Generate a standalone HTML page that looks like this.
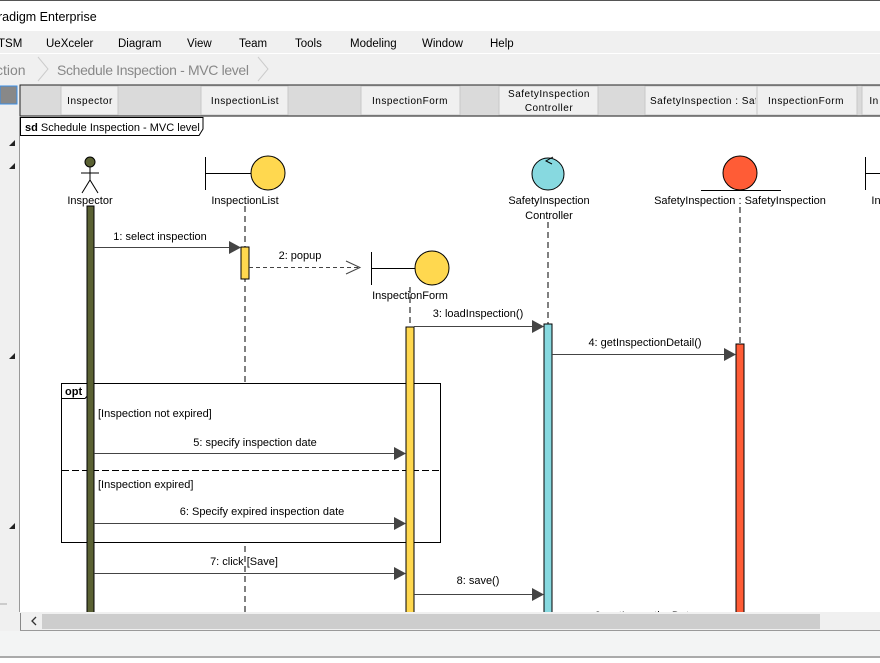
<!DOCTYPE html>
<html><head><meta charset="utf-8"><style>
body{margin:0;width:880px;height:658px;overflow:hidden;background:#fff;font-family:"Liberation Sans",sans-serif}
</style></head><body>
<svg width="880" height="658" xmlns="http://www.w3.org/2000/svg" font-family="Liberation Sans, sans-serif" font-size="11">
<defs><clipPath id="c1"><rect x="645" y="86" width="111" height="29"/></clipPath></defs>
<rect width="880" height="658" fill="#fff"/>
<line x1="0" y1="0.5" x2="880" y2="0.5" stroke="#555"/>
<text x="-2" y="21" font-size="12.5" fill="#000">radigm Enterprise</text>
<rect x="0" y="31" width="880" height="22" fill="#f0f0f0"/>
<g font-size="11.5" fill="#000">
<text x="-2" y="47">TSM</text><text x="46" y="47">UeXceler</text><text x="118" y="47">Diagram</text><text x="187" y="47">View</text><text x="239" y="47">Team</text><text x="295" y="47">Tools</text><text x="350" y="47">Modeling</text><text x="422" y="47">Window</text><text x="490" y="47">Help</text>
</g>
<rect x="0" y="54" width="880" height="30" fill="#f0f0f0"/>
<text x="-4" y="75" font-size="14" fill="#888">ction</text>
<path d="M38 57 L48 69 L38 81" fill="none" stroke="#ccc"/>
<text x="57" y="75" font-size="14" fill="#888" textLength="192">Schedule Inspection - MVC level</text>
<path d="M258 57 L268 69 L258 81" fill="none" stroke="#ccc"/>
<rect x="0" y="84" width="880" height="33" fill="#f0f0f0"/>
<rect x="0" y="86" width="17" height="18" fill="#888" stroke="#3a8ee6"/>
<rect x="20" y="85" width="860" height="31" fill="#dadada" stroke="#222" stroke-width="1"/>
<g fill="#f0f0f0" stroke="#c8c8c8">
<rect x="61" y="86" width="57" height="29"/><rect x="201" y="86" width="87" height="29"/><rect x="361" y="86" width="99" height="29"/><rect x="499" y="86" width="99" height="29"/><rect x="645" y="86" width="112" height="29"/><rect x="757" y="86" width="100" height="29"/><rect x="862" y="86" width="20" height="29"/>
</g>
<g font-size="10" fill="#000" text-anchor="middle" letter-spacing="0.5">
<text x="90" y="104">Inspector</text><text x="245" y="104">InspectionList</text><text x="410" y="104">InspectionForm</text>
<text x="549" y="97">SafetyInspection</text><text x="549" y="111">Controller</text>
<text x="650" y="104" text-anchor="start" clip-path="url(#c1)">SafetyInspection : SafetyInspection</text><text x="806" y="104">InspectionForm</text><text x="874" y="104">In</text>
</g>
<line x1="20" y1="116.5" x2="880" y2="116.5" stroke="#888"/>
<rect x="0" y="117" width="19" height="496" fill="#f0f0f0"/>
<line x1="19.5" y1="117" x2="19.5" y2="613" stroke="#999"/>
<g fill="#222"><path d="M9 146 L15 140 L15 146Z"/><path d="M9 169 L15 163 L15 169Z"/><path d="M9 359 L15 353 L15 359Z"/><path d="M9 529 L15 523 L15 529Z"/></g>
<path d="M20.5 117.5 H203 V129 L199 135.5 H20.5Z" fill="#fff" stroke="#000"/>
<text x="25" y="131" font-size="11"><tspan font-weight="bold">sd</tspan> Schedule Inspection - MVC level</text>
<g stroke="#000" stroke-dasharray="6,4">
<line x1="245" y1="206" x2="245" y2="612"/><line x1="410" y1="287" x2="410" y2="612"/><line x1="548" y1="222" x2="548" y2="612"/><line x1="740" y1="207" x2="740" y2="612"/>
</g>
<!-- opt frame (white fill, behind activations) -->
<rect x="61.5" y="383.5" width="379" height="159" fill="#fff" stroke="#000"/>
<path d="M61.5 383.5 H89 V394 L85 398.5 H61.5Z" fill="#fff" stroke="#000"/>
<text x="65" y="395" font-weight="bold" font-size="11">opt</text>
<line x1="62" y1="470.5" x2="440" y2="470.5" stroke="#000" stroke-dasharray="7,3"/>
<text x="98" y="417" font-size="11">[Inspection not expired]</text>
<text x="98" y="488" font-size="11">[Inspection expired]</text>
<circle cx="90" cy="162" r="5" fill="#5a6133" stroke="#000"/>
<g stroke="#000" fill="none"><line x1="90" y1="167" x2="90" y2="180"/><line x1="81" y1="173" x2="99" y2="173"/><path d="M82 193 L90 180 L98 193"/></g>
<g fill="#000" text-anchor="middle" font-size="11">
<text x="90" y="204">Inspector</text><text x="245" y="204">InspectionList</text><text x="410" y="299">InspectionForm</text>
<text x="549" y="204">SafetyInspection</text><text x="549" y="219">Controller</text><text x="740" y="204">SafetyInspection : SafetyInspection</text><text x="876" y="204">In</text>
</g>
<g stroke="#000"><line x1="205.5" y1="157" x2="205.5" y2="190"/><line x1="205" y1="173.5" x2="251" y2="173.5"/></g>
<circle cx="268" cy="173" r="17" fill="#ffd84f" stroke="#000"/>
<g stroke="#000"><line x1="371.5" y1="252" x2="371.5" y2="285"/><line x1="371" y1="268.5" x2="416" y2="268.5"/></g>
<circle cx="432" cy="268" r="17" fill="#ffd84f" stroke="#000"/>
<g stroke="#000"><line x1="865.5" y1="157" x2="865.5" y2="190"/><line x1="865" y1="173.5" x2="880" y2="173.5"/></g>
<circle cx="548" cy="174" r="16" fill="#87d9e0" stroke="#000"/>
<path d="M553 157 L546 161 L552 164" fill="none" stroke="#000"/>
<circle cx="740" cy="173" r="17" fill="#ff5c36" stroke="#000"/>
<line x1="701" y1="190.5" x2="781" y2="190.5" stroke="#000"/>
<rect x="87" y="206" width="7" height="410" fill="#5a6133" stroke="#000"/>
<rect x="241" y="247" width="8" height="32" fill="#ffd84f" stroke="#000"/>
<rect x="406" y="327" width="8" height="290" fill="#ffd84f" stroke="#000"/>
<rect x="544" y="324" width="8" height="292" fill="#87d9e0" stroke="#000"/>
<rect x="736" y="344" width="8" height="272" fill="#ff5c36" stroke="#000"/>
<g stroke="#444" stroke-width="1">
<line x1="94" y1="247.5" x2="230" y2="247.5"/>
<line x1="249" y1="267.5" x2="360" y2="267.5" stroke-dasharray="4,3"/>
<line x1="414" y1="326.5" x2="533" y2="326.5"/>
<line x1="552" y1="354.5" x2="725" y2="354.5"/>
<line x1="94" y1="453.5" x2="395" y2="453.5"/>
<line x1="94" y1="523.5" x2="395" y2="523.5"/>
<line x1="94" y1="573.5" x2="395" y2="573.5"/>
<line x1="414" y1="594.5" x2="533" y2="594.5"/>
</g>
<path d="M346 261 L360 267.5 L346 274" fill="none" stroke="#444"/>
<g fill="#444">
<path d="M229 241 L241 247.5 L229 254Z"/><path d="M532 320 L544 326.5 L532 333Z"/><path d="M724 348 L736 354.5 L724 361Z"/>
<path d="M394 447 L406 453.5 L394 460Z"/><path d="M394 517 L406 523.5 L394 530Z"/><path d="M394 567 L406 573.5 L394 580Z"/><path d="M532 588 L544 594.5 L532 601Z"/>
</g>
<g font-size="11" fill="#000" text-anchor="middle">
<text x="160" y="240">1: select inspection</text><text x="300" y="259">2: popup</text><text x="478" y="317">3: loadInspection()</text>
<text x="645" y="346">4: getInspectionDetail()</text><text x="255" y="446">5: specify inspection date</text><text x="262" y="515">6: Specify expired inspection date</text>
<text x="244" y="565">7: click [Save]</text><text x="478" y="584">8: save()</text>
<text x="645" y="619">9: setInspectionDate</text>
</g>
<rect x="0" y="612" width="880" height="19" fill="#f0f0f0"/>
<rect x="0" y="603" width="7" height="2" fill="#ccc"/>
<line x1="20.5" y1="613" x2="20.5" y2="631" stroke="#888"/>
<rect x="42" y="614" width="778" height="15" fill="#cdcdcd"/>
<path d="M36 617 L32 621 L36 625" fill="none" stroke="#333" stroke-width="1.3"/>
<line x1="20" y1="630.5" x2="880" y2="630.5" stroke="#999"/>
<rect x="0" y="631" width="880" height="25" fill="#f3f4f4"/>
<line x1="0" y1="657" x2="880" y2="657" stroke="#555"/>
</svg>
</body></html>
